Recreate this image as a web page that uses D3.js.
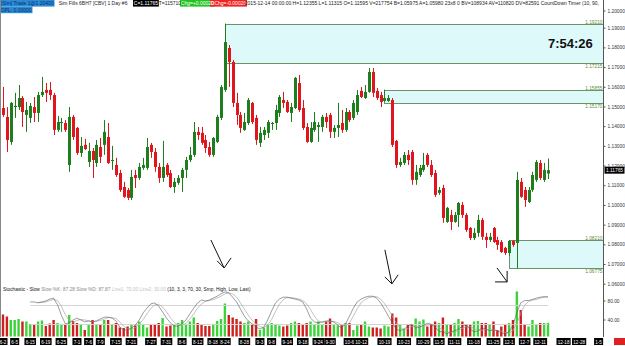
<!DOCTYPE html>
<html>
<head>
<meta charset="utf-8">
<script src="https://cdn.jsdelivr.net/npm/d3@7"></script>
<style>
  body { margin: 0; background: #fff; }
  svg { display: block; }
  text { font-family: "Liberation Sans", Arial, sans-serif; }
</style>
</head>
<body>
<svg width="625" height="346"></svg>
<script>
// daily bars 6-2 .. 12-14
var open = [1.1492,1.1447,1.1320,1.1497,1.1497,1.1543,1.1457,1.1442,1.1497,1.1467,
  1.1558,1.1584,1.1584,1.1558,1.1381,1.1416,1.1416,1.1203,1.1447,1.1391,
  1.1264,1.1305,1.1218,1.1274,1.1213,1.1294,1.1305,1.1345,1.1223,1.1203,
  1.1162,1.1091,1.1076,1.1036,1.1152,1.1137,1.1188,1.1188,1.1305,1.1269,
  1.1193,1.1137,1.1203,1.1162,1.1091,1.1112,1.1137,1.1178,1.1228,1.1254,
  1.1371,1.1366,1.1330,1.1294,1.1254,1.1320,1.1442,1.1584,1.1797,1.1726,
  1.1518,1.1457,1.1381,1.1416,1.1518,1.1442,1.1315,1.1355,1.1366,1.1411,
  1.1416,1.1467,1.1533,1.1523,1.1467,1.1492,1.1619,1.1492,1.1396,1.1320,
  1.1381,1.1396,1.1396,1.1447,1.1457,1.1371,1.1391,1.1416,1.1381,1.1472,
  1.1442,1.1472,1.1579,1.1543,1.1574,1.1675,1.1579,1.1558,1.1528,1.1528,
  1.1533,1.1325,1.1203,1.1213,1.1254,1.1269,1.1127,1.1152,1.1178,1.1254,
  1.1203,1.1162,1.1061,1.1086,1.0914,1.0949,1.0914,1.0949,1.1000,1.0949,
  1.0883,1.0832,1.0858,1.0924,1.0838,1.0822,1.0883,1.0822,1.0812,1.0782,
  1.0756,1.0817,1.0807,1.1117,1.1076,1.1015,1.1076,1.1127,1.1213,1.1127,
  1.11595];
var high = [1.1599,1.1497,1.1523,1.1569,1.1609,1.1553,1.1523,1.1518,1.1548,1.1574,
  1.1650,1.1619,1.1624,1.1569,1.1452,1.1442,1.1431,1.1497,1.1457,1.1396,
  1.1345,1.1335,1.1315,1.1289,1.1330,1.1340,1.1431,1.1416,1.1300,1.1239,
  1.1178,1.1117,1.1086,1.1178,1.1178,1.1213,1.1239,1.1340,1.1315,1.1289,
  1.1213,1.1325,1.1213,1.1178,1.1137,1.1152,1.1188,1.1244,1.1294,1.1421,
  1.1396,1.1396,1.1355,1.1320,1.1345,1.1457,1.1609,1.1921,1.1812,1.1736,
  1.1569,1.1472,1.1467,1.1543,1.1523,1.1457,1.1396,1.1396,1.1431,1.1421,
  1.1508,1.1558,1.1574,1.1533,1.1518,1.1650,1.1660,1.1533,1.1416,1.1421,
  1.1472,1.1421,1.1457,1.1467,1.1467,1.1406,1.1518,1.1482,1.1492,1.1482,
  1.1533,1.1584,1.1599,1.1609,1.1695,1.1695,1.1594,1.1574,1.15855,1.1558,
  1.1543,1.1330,1.1239,1.1269,1.1279,1.1279,1.1203,1.1203,1.1264,1.1264,
  1.1228,1.1178,1.1091,1.1102,1.0990,1.0975,1.0964,1.1015,1.1015,1.0959,
  1.0888,1.0883,1.0949,1.0934,1.0858,1.0858,1.0888,1.0838,1.0822,1.0787,
  1.0821,1.0822,1.1168,1.1137,1.1091,1.1091,1.1168,1.1228,1.1228,1.1213,
  1.12355];
var low = [1.1447,1.1269,1.1305,1.1442,1.1482,1.1396,1.1371,1.1416,1.1421,1.1421,
  1.1548,1.1523,1.1533,1.1355,1.1371,1.1371,1.1371,1.1168,1.1330,1.1254,
  1.1244,1.1279,1.1193,1.1137,1.1193,1.1213,1.1254,1.1208,1.1178,1.1142,
  1.1066,1.1036,1.1025,1.1025,1.1086,1.1127,1.1178,1.1178,1.1239,1.1168,
  1.1112,1.1117,1.1142,1.1086,1.1061,1.1102,1.1066,1.1137,1.1218,1.1244,
  1.1330,1.1305,1.1264,1.1244,1.1244,1.1315,1.1431,1.1574,1.1599,1.1497,
  1.1406,1.1366,1.1376,1.1406,1.1411,1.1305,1.1294,1.1330,1.1340,1.1381,
  1.1381,1.1447,1.1492,1.1467,1.1421,1.1487,1.1472,1.1381,1.1315,1.1315,
  1.1371,1.1320,1.1371,1.1391,1.1340,1.1340,1.1345,1.1366,1.1371,1.1421,
  1.1431,1.1457,1.1543,1.1538,1.1569,1.1548,1.1533,1.1497,1.1523,1.1523,
  1.1294,1.1188,1.1193,1.1203,1.1203,1.1102,1.1102,1.1142,1.1168,1.1193,
  1.1142,1.1041,1.1051,1.0909,1.0909,1.0873,1.0909,1.0888,1.0934,1.0863,
  1.0822,1.0822,1.0838,1.0822,1.0782,1.0812,1.0807,1.0772,1.0756,1.0746,
  1.0741,1.0787,1.06775,1.1036,1.0990,1.1010,1.1066,1.1117,1.1127,1.1117,
  1.11315];
var close = [1.1457,1.1330,1.1518,1.1503,1.1543,1.1472,1.1482,1.1503,1.1467,1.1558,
  1.1574,1.1569,1.1558,1.1381,1.1421,1.1421,1.1381,1.1447,1.1345,1.1264,
  1.1300,1.1284,1.1274,1.1228,1.1305,1.1244,1.1371,1.1213,1.1228,1.1152,
  1.1076,1.1041,1.1036,1.1142,1.1137,1.1193,1.1203,1.1294,1.1269,1.1193,
  1.1137,1.1193,1.1152,1.1091,1.1117,1.1137,1.1178,1.1228,1.1254,1.1371,
  1.1355,1.1315,1.1289,1.1254,1.1340,1.1447,1.1599,1.1827,1.1726,1.1518,
  1.1457,1.1391,1.1421,1.1533,1.1421,1.1330,1.1366,1.1381,1.1421,1.1416,
  1.1482,1.1548,1.1518,1.1472,1.1497,1.1645,1.1482,1.1391,1.1320,1.1391,
  1.1421,1.1406,1.1447,1.1421,1.1371,1.1391,1.1406,1.1381,1.1472,1.1431,
  1.1518,1.1558,1.1548,1.1574,1.1675,1.1569,1.1543,1.1523,1.1543,1.1543,
  1.1305,1.1203,1.1218,1.1254,1.1228,1.1127,1.1168,1.1188,1.1203,1.1203,
  1.1152,1.1051,1.1076,1.0934,1.0985,1.0914,1.0949,1.1010,1.0949,1.0873,
  1.0832,1.0858,1.0924,1.0838,1.0822,1.0838,1.0812,1.0797,1.0761,1.0756,
  1.0817,1.0797,1.1127,1.1041,1.1025,1.1076,1.1152,1.1218,1.1137,1.1178,
  1.11765];
// volume, thousands
var volume = [352,320,264,264,280,240,240,200,184,240,
  256,168,208,264,216,184,184,344,248,216,
  184,104,200,264,200,184,264,264,200,216,
  144,136,160,200,176,240,184,144,200,200,
  216,296,160,176,200,216,264,184,240,304,
  216,200,168,168,200,248,280,528,344,304,
  280,240,216,240,184,280,104,144,184,216,
  184,176,160,176,216,240,216,200,216,240,
  200,240,184,240,288,184,176,184,216,216,
  104,176,200,240,160,144,144,128,176,160,
  368,304,192,120,184,200,288,240,272,160,
  184,240,216,304,200,184,216,280,240,200,
  184,240,248,216,216,200,240,104,160,184,
  216,264,720,424,184,160,264,184,216,216,
  218];
var stochK = [null,null,null,null,null,null,null,
  77,77,75,77,79,83,85,71,49,31,
  33,39,43,39,35,37,35,37,41,45,
  45,43,37,24,18,18,22,28,39,54,
  64,73,75,68,56,43,33,26,26,31,
  39,52,64,75,81,79,81,85,89,94,
  98,96,87,77,62,47,37,31,24,20,
  24,39,58,75,83,87,87,85,83,81,
  77,62,43,35,33,35,37,37,35,28,
  22,31,47,64,77,83,87,89,89,85,
  75,62,47,33,20,16,20,26,30,22,
  24,28,32,30,24,15,14,10,14,16,
  20,26,28,20,14,16,22,20,16,18,
  16,12,10,14,28,55,75,80,80,82,
  85,87,88,87.28];
var stochD = [null,null,null,null,null,null,null,null,null,
  76,76,77,80,82,80,68,50,38,34,
  38,40,39,37,36,36,38,41,44,44,
  42,35,26,20,19,23,30,40,52,64,
  71,72,66,56,44,34,28,28,32,41,
  52,64,73,78,80,82,85,89,94,96,
  94,87,75,62,49,38,31,25,23,28,
  40,57,72,82,86,86,85,83,80,73,
  61,47,37,34,35,36,36,33,28,27,
  33,47,63,75,82,86,88,88,83,74,
  61,47,33,23,19,21,25,26,25,25,
  28,30,29,23,18,13,13,13,17,21,
  25,25,21,17,17,19,19,18,17,15,
  13,12,17,32,53,70,78,81,82,85,
  87,87.87];

var tickLabels = ["6-2","6-5","6-15","6-19","6-25","7-1","7-6","7-9","7-15","7-21","7-27","7-31",
  "8-6","8-12","8-18","8-24","8-28","9-3","9-8","9-14","9-18","9-24","9-30",
  "10-6","10-12","10-19","10-23","10-29","11-5","11-11","11-18","11-25",
  "12-1","12-7","12-11","12-18","12-28","1-5"];
var tickBars = [0,3,7,11,15,19,22,25,29,33,38,42,
  46,50,54,57,62,66,69,73,77,81,84,
  89,92,98,103,108,112,116,121,126,
  130,134,138,144,148,153];

var priceTicks = [1.20,1.19,1.18,1.17,1.16,1.15,1.14,1.13,1.12,1.11,1.10,1.09,1.08,1.07,1.06];
var stochTicks = [80, 40];
var stochLines = [70, 30];

// drawn zones
var zoneStart = [57, 98, 130];
var zoneTop = [1.19210, 1.15855, 1.08210];
var zoneBottom = [1.17215, 1.15170, 1.06775];

// hand drawn arrows: [bar, price] tail, tip, left wing, right wing
var arrows = [
  [[53.4, 1.0822], [56.8, 1.0680], [55.0, 1.0716], [58.6, 1.0731]],
  [[98.1, 1.0772], [99.9, 1.0599], [98.1, 1.0634], [101.5, 1.0645]],
  [[126.9, 1.0680], [129.5, 1.0609], [126.4, 1.0609], [129.5, 1.0665]]
];

var lastPrice = 1.11765;
var timerText = "7:54:26";

var svg = d3.select("svg"),
    width = +svg.attr("width"),
    height = +svg.attr("height");

var axisX = 603.5;
var upCol = "#1e7e1e", downCol = "#e0161e";

var x = d3.scaleLinear().domain([0, 140]).range([3, 548]);
var y = d3.scaleLinear().domain([1.07, 1.20]).range([264, 8]);
var yVol = d3.scaleLinear().domain([0, 720]).range([336.5, 291.5]);
var yStoch = d3.scaleLinear().domain([0, 100]).range([338.5, 291]);

var bars = open.map(function(o, i) {
  return {i: i, o: o, h: high[i], l: low[i], c: close[i], v: volume[i], k: stochK[i], d: stochD[i]};
});

svg.append("rect").attr("width", width).attr("height", height).attr("fill", "#fff");

// zones
var zones = zoneStart.map(function(s, i) { return {s: s, t: zoneTop[i], b: zoneBottom[i]}; });
var zg = svg.append("g");
zg.selectAll("rect").data(zones).enter().append("rect")
    .attr("x", function(d) { return Math.round(x(d.s)) + 0.5; })
    .attr("y", function(d) { return Math.round(y(d.t)) + 0.5; })
    .attr("width", function(d) { return axisX - Math.round(x(d.s)) - 0.5; })
    .attr("height", function(d) { return Math.round(y(d.b)) - Math.round(y(d.t)); })
    .attr("fill", "#ddf9f9")
    .attr("stroke", "#6a946a")
    .attr("stroke-width", 1);
zones.forEach(function(d) {
  zg.append("text").attr("x", axisX - 1).attr("y", Math.round(y(d.t)) - 0.5)
      .attr("text-anchor", "end").attr("font-size", 4.8).attr("fill", "#5c8c3c")
      .text(d.t.toFixed(5));
  zg.append("text").attr("x", axisX - 1).attr("y", Math.round(y(d.b)) + 4.8)
      .attr("text-anchor", "end").attr("font-size", 4.8).attr("fill", "#5c8c3c")
      .text(d.b.toFixed(5));
});

// timer
svg.append("text").attr("x", 548).attr("y", 48)
    .attr("font-size", 13).attr("font-weight", "bold").attr("fill", "#111")
    .text(timerText);

// candles
var cg = svg.append("g");
var candle = cg.selectAll("g").data(bars).enter().append("g")
    .attr("fill", function(d) { return d.c >= d.o ? upCol : downCol; })
    .attr("stroke", function(d) { return d.c >= d.o ? upCol : downCol; });
candle.append("line")
    .attr("x1", function(d) { return Math.round(x(d.i)) + 0.5; })
    .attr("x2", function(d) { return Math.round(x(d.i)) + 0.5; })
    .attr("y1", function(d) { return y(d.h); })
    .attr("y2", function(d) { return y(d.l); })
    .attr("stroke-width", 1);
candle.append("rect")
    .attr("x", function(d) { return Math.round(x(d.i)) - 1; })
    .attr("y", function(d) { return y(Math.max(d.o, d.c)); })
    .attr("width", 3)
    .attr("height", function(d) { return Math.max(1, Math.abs(y(d.o) - y(d.c))); })
    .attr("stroke", "none");

// arrows
var line = d3.line().x(function(p) { return x(p[0]); }).y(function(p) { return y(p[1]); });
var ag = svg.append("g").attr("fill", "none").attr("stroke", "#111").attr("stroke-width", 1);
arrows.forEach(function(a) {
  ag.append("path").attr("d", line([a[0], a[1]]));
  ag.append("path").attr("d", line([a[2], a[1], a[3]]));
});

// volume
svg.append("g").selectAll("rect").data(bars).enter().append("rect")
    .attr("x", function(d) { return x(d.i) - 1.2; })
    .attr("y", function(d) { return yVol(d.v); })
    .attr("width", 2.4)
    .attr("height", function(d) { return yVol(0) - yVol(d.v); })
    .attr("fill", function(d) { return d.c >= d.o ? "#3ad43a" : "#cf1f1f"; });

// stochastic
var sg = svg.append("g");
stochLines.forEach(function(v) {
  sg.append("line").attr("x1", x(7)).attr("x2", x(140))
      .attr("y1", Math.round(yStoch(v)) + 0.5).attr("y2", Math.round(yStoch(v)) + 0.5)
      .attr("stroke", "#d4d4d4").attr("stroke-width", 1);
});
var kLine = d3.line().defined(function(d) { return d.k != null; })
    .x(function(d) { return x(d.i); }).y(function(d) { return yStoch(d.k); });
var dLine = d3.line().defined(function(d) { return d.d != null; })
    .x(function(d) { return x(d.i); }).y(function(d) { return yStoch(d.d); });
sg.append("path").attr("d", dLine(bars)).attr("fill", "none").attr("stroke", "#a8a8a8").attr("stroke-width", 0.7);
sg.append("path").attr("d", kLine(bars)).attr("fill", "none").attr("stroke", "#5a5a5a").attr("stroke-width", 0.6);

var st = svg.append("text").attr("x", 3).attr("y", 291).attr("font-size", 4.8).attr("fill", "#111");
st.append("tspan").text("Stochastic - Slow  ");
st.append("tspan").attr("fill", "#8a8a8a").text("Slow %K: " + stochK[stochK.length - 1].toFixed(2) + "  Slow %D: " + stochD[stochD.length - 1].toFixed(2) + "  ");
st.append("tspan").attr("fill", "#c4c4c4").text("Line1: 70.00  Line2: 30.00  ");
st.append("tspan").text(" (10, 3, 3, 70, 30, Smp, High, Low, Last)");

// right axis
svg.append("line").attr("x1", axisX).attr("x2", axisX).attr("y1", 0).attr("y2", 337)
    .attr("stroke", "#555").attr("stroke-width", 1);
var pa = svg.append("g").attr("transform", "translate(" + axisX + ",0)")
    .call(d3.axisRight(y).tickValues(priceTicks).tickFormat(d3.format(".5f")).tickSize(2).tickPadding(2));
pa.select(".domain").remove();
pa.selectAll("text").attr("font-size", 4.8).attr("fill", "#333").style("font-family", "Liberation Sans, Arial, sans-serif");
pa.selectAll("line").attr("stroke", "#555");
pa.selectAll(".tick").filter(function(d) { return d === 1.20; }).attr("transform", "translate(0,11)");

var sa = svg.append("g").attr("transform", "translate(" + axisX + ",0)")
    .call(d3.axisRight(yStoch).tickValues(stochTicks).tickFormat(d3.format(".2f")).tickSize(2).tickPadding(2));
sa.select(".domain").remove();
sa.selectAll("text").attr("font-size", 4.8).attr("fill", "#333").style("font-family", "Liberation Sans, Arial, sans-serif");
sa.selectAll("line").attr("stroke", "#555");

// last price marker
svg.append("rect").attr("x", axisX + 1).attr("y", y(lastPrice) - 3.5).attr("width", 20).attr("height", 7).attr("fill", "#000");
svg.append("text").attr("x", axisX + 2.5).attr("y", y(lastPrice) + 1.8).attr("font-size", 4.8).attr("fill", "#fff").text(lastPrice.toFixed(5));

// date axis
var xg = svg.append("g");
tickLabels.forEach(function(t, i) {
  var cx = x(tickBars[i]);
  var tx = xg.append("text").attr("x", cx).attr("y", 343.6).attr("text-anchor", "middle")
      .attr("font-size", 4.6).attr("fill", "#fff").text(t);
  var w = tx.node().getComputedTextLength() + 2.4;
  xg.insert("rect", "text").attr("x", cx - w / 2).attr("y", 338).attr("width", w).attr("height", 7).attr("fill", "#000");
});
svg.append("rect").attr("x", 614).attr("y", 338).attr("width", 11).attr("height", 7).attr("fill", "#e02020");

// header
function tag(g, xPos, yPos, txt, bg, fg) {
  var t = g.append("text").attr("x", xPos + 0.8).attr("y", yPos).attr("font-size", 5).attr("fill", fg).text(txt);
  if (bg) {
    var w = t.node().getComputedTextLength() + 1.6;
    g.insert("rect", "text").attr("x", xPos).attr("y", yPos - 5.2).attr("width", w).attr("height", 6.6).attr("fill", bg);
  }
}
var hg = svg.append("g");
tag(hg, 0, 5.2, "[Sim] Trade 1@1.20400", "#2a8bd8", "#0b2f5e");
tag(hg, 0, 11.8, "OPL: 0.00000", "#2a8bd8", "#0b2f5e");
tag(hg, 58, 5.2, "Sim Fills  6BH7 [CBV]  1 Day    #6", null, "#222");
tag(hg, 133, 5.2, "C=1.11765", "#000", "#fff");
tag(hg, 158, 5.2, "T=115710", null, "#222");
tag(hg, 180, 5.2, "Chg=+0.00020", "#22c322", "#fff");
tag(hg, 210, 5.2, "DChg=-0.00020", "#f02222", "#fff");
tag(hg, 244, 5.2, "2015-12-14 00:00:00 H=1.12355 L=1.11315 O=1.11595 V=217754 B=1.05975 A=1.05980 23x8 0 BV=108934 AV=110820 DV=82591 CountDown Timer  (10, 90,", null, "#222");

// left border
svg.append("line").attr("x1", 0.5).attr("x2", 0.5).attr("y1", 0).attr("y2", 337).attr("stroke", "#888");
</script>
</body>
</html>
